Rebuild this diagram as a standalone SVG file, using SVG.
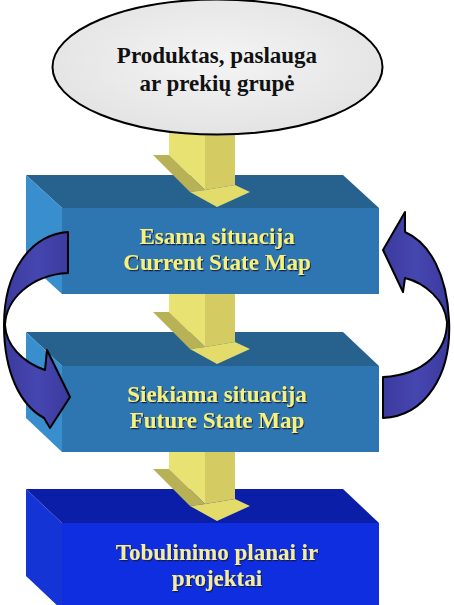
<svg xmlns="http://www.w3.org/2000/svg" width="454" height="605" viewBox="0 0 454 605">
<defs>
<filter id="sh" x="-10%" y="-30%" width="120%" height="160%">
<feDropShadow dx="1" dy="1.2" stdDeviation="0.6" flood-color="#14143a" flood-opacity="0.9"/>
</filter>
<radialGradient id="ellg" cx="50%" cy="45%" r="60%">
<stop offset="0" stop-color="#f4f4f4"/>
<stop offset="1" stop-color="#e2e2e2"/>
</radialGradient>
<linearGradient id="curv" x1="0" y1="0" x2="1" y2="0">
<stop offset="0" stop-color="#3a3a9e"/>
<stop offset="0.5" stop-color="#4646b0"/>
<stop offset="1" stop-color="#3a3a9e"/>
</linearGradient>
</defs>
<style>
.front{fill:#2e76b2}
.top{fill:#27628f}
.side{fill:#398ecd}
.front3{fill:#0f2ee0}
.top3{fill:#0a1ea8}
.side3{fill:#1434d6}
.lbl{font-family:"Liberation Serif","Times New Roman",serif;font-weight:bold;font-size:23px;text-anchor:middle}
.yl{fill:#f6f07c;filter:url(#sh)}
.yl3{fill:#f2eda0;filter:url(#sh)}
.blk{fill:#111111}
.sl{fill:#e8e272}
.sd{fill:#d4cc62}
.wg{fill:#b9b155}
.hd{fill:#e3db6a}
.curve{fill:url(#curv);stroke:#000;stroke-width:2;stroke-linejoin:round}
</style>
<rect width="454" height="605" fill="#ffffff"/>

<g id="node-tobulinimo">
<polygon class="top3" points="26,489 343,489 379,523 62,523"/>
<polygon class="side3" points="26,489 62,523 62,610 26,576"/>
<rect class="front3" x="62" y="523" width="317" height="87"/>
<text class="lbl yl3" x="217" y="560">Tobulinimo planai ir</text>
<text class="lbl yl3" x="217" y="586">projektai</text>
</g>

<g id="node-future">
<polygon class="top" points="26,332 343,332 379,366 62,366"/>
<polygon class="side" points="26,332 62,366 62,452 26,418"/>
<rect class="front" x="62" y="366" width="317" height="86"/>
<text class="lbl yl" x="217" y="402">Siekiama situacija</text>
<text class="lbl yl" x="217" y="428">Future State Map</text>
</g>

<g id="node-current">
<polygon class="top" points="26,175 343,175 379,208 62,208"/>
<polygon class="side" points="26,175 62,208 62,294 26,261"/>
<rect class="front" x="62" y="208" width="317" height="86"/>
<text class="lbl yl" x="217" y="244">Esama situacija</text>
<text class="lbl yl" x="217" y="270">Current State Map</text>
</g>

<g id="connectors">
<g id="arrow-1">
<polygon class="sl" points="169,128 205,128 205,190 169,155"/>
<polygon class="sd" points="205,128 235,128 235,185 205,190"/>
<polygon class="wg" points="153,155 169,155 205,190 190,192"/>
<polygon class="hd" points="190,192 205,190 235,185 250,192 217,207"/>
</g>
<g id="arrow-2" transform="translate(0,157)">
<polygon class="sl" points="169,137 205,137 205,190 169,155"/>
<polygon class="sd" points="205,137 235,137 235,185 205,190"/>
<polygon class="wg" points="153,155 169,155 205,190 190,192"/>
<polygon class="hd" points="190,192 205,190 235,185 250,192 217,207"/>
</g>
<g id="arrow-3" transform="translate(0,314)">
<polygon class="sl" points="169,138 205,138 205,190 169,155"/>
<polygon class="sd" points="205,138 235,138 235,185 205,190"/>
<polygon class="wg" points="153,155 169,155 205,190 190,192"/>
<polygon class="hd" points="190,192 205,190 235,185 250,192 217,207"/>
</g>
<path id="loop-left" class="curve" d="M 68,232 C 30,235 4,272 4,325 C 4,372 20,405 44,418 L 50,428 L 70,397 L 47,350 L 45,370 C 22,362 6,345 5,325 C 6,300 30,275 68,273 Z"/>
<path id="loop-right" class="curve" d="M 383,418 C 425,416 452,375 449,320 C 447,275 430,243 405,232 L 405,212 L 383,250 L 403,292 L 405,278 C 425,283 445,300 447,322 C 447,350 425,375 383,377 Z"/>
</g>

<g id="node-produktas">
<ellipse cx="217.5" cy="67" rx="165" ry="67.5" fill="url(#ellg)" stroke="#000" stroke-width="2"/>
<text class="lbl blk" x="217" y="63">Produktas, paslauga</text>
<text class="lbl blk" x="217" y="91">ar prekių grupė</text>
</g>
</svg>
